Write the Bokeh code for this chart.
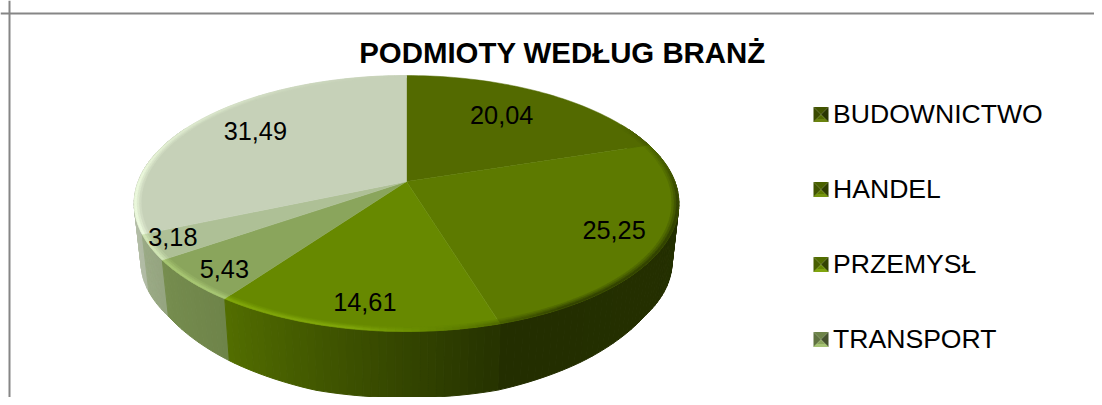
import numpy as np
from bokeh.core.properties import value
from bokeh.embed import file_html
from bokeh.models import Range1d, Span
from bokeh.plotting import figure
from bokeh.resources import INLINE

title = "PODMIOTY WEDŁUG BRANŻ"
legend_labels = ["BUDOWNICTWO", "HANDEL", "PRZEMYSŁ", "TRANSPORT"]
values = [20.04, 25.25, 14.61, 5.43, 3.18, 31.49]
value_labels = ["20,04", "25,25", "14,61", "5,43", "3,18", "31,49"]

colors = [(83, 106, 0), (93, 122, 0), (103, 137, 0), (138, 165, 92), (174, 192, 150), (198, 209, 184)]
label_radius = [0.68, 0.82, 0.84, 0.88, 0.92, 0.72]
label_nudge_x = [-3, -1, 1, 6, 0, 0]
label_nudge_y = [-4, -2, 0, 2, -5, -5]

# Perspective of the pie, in picture pixels
CX, CY, A, B, K = 406.0, 181.0, 268.3, 124.2, 0.1719
SHRINK = 0.975


def project(theta, r=1.0, drop=0.0, s=1.0):
    u, v = r * np.sin(theta), r * np.cos(theta)
    w = 1 + K * v
    return CX + s * A * u / w, CY + drop - s * B * v / w


def wall_drop(theta):
    # thickness of the wall: the lower edge is rounded at its shoulders
    off = np.abs(np.degrees(theta) - 180)
    return np.interp(off, [0, 17, 35, 55, 75, 180], [70, 70, 65, 58, 59, 59])


def hexc(c, f=1.0, add=0.0):
    return "#%02x%02x%02x" % tuple(int(np.clip(x * f + add, 0, 255)) for x in c)


def wall_shade(deg):
    return np.interp(deg, [0, 90, 165, 215, 250, 275, 360], [.45, .40, .38, .80, .90, .95, .95])


p = figure(width=1094, height=397, x_range=Range1d(0, 1094), y_range=Range1d(397, 0),
           x_axis_type=None, y_axis_type=None, toolbar_location=None, output_backend="svg",
           min_border=0, outline_line_color=None, background_fill_color="white")
p.grid.visible = False
p.add_layout(Span(location=13, dimension="width", line_color="#868686", line_width=2))
p.add_layout(Span(location=9, dimension="height", line_color="#868686", line_width=2))

edges = np.concatenate([[0], np.cumsum(values)]) / np.sum(values) * 2 * np.pi
STEP = np.radians(1.5)

# Side wall
quads = []
for i, c in enumerate(colors):
    n = max(2, int(np.ceil((edges[i + 1] - edges[i]) / STEP)))
    th = np.linspace(edges[i], edges[i + 1], n + 1)
    for a, b in zip(th[:-1], th[1:]):
        mid = (a + b) / 2
        if np.cos(mid) > 0.45:
            continue
        x1, y1 = project(np.array([a, b]))
        pair = np.array([b, a])
        x2, y2 = project(pair, drop=wall_drop(pair), s=SHRINK)
        quads.append((-np.cos(mid), list(np.r_[x1, x2]), list(np.r_[y1, y2]),
                      hexc(c, float(wall_shade(np.degrees(mid))))))
quads.sort(key=lambda q: q[0])
p.patches([q[1] for q in quads], [q[2] for q in quads], fill_color=[q[3] for q in quads],
          line_color=[q[3] for q in quads], line_width=1)

# Top faces
for i, c in enumerate(colors):
    n = int(np.ceil((edges[i + 1] - edges[i]) / STEP))
    th = np.linspace(edges[i], edges[i + 1], n + 1)
    x, y = project(th)
    p.patch(np.r_[CX, x], np.r_[CY, y], fill_color=hexc(c), line_color=hexc(c), line_width=0.5)

# Bevel along the rim of the top faces
for r_in, r_out, strength in [(0.975, 0.983, .25), (0.983, 0.991, .55), (0.991, 1.0, .9)]:
    xs, ys, cols = [], [], []
    for i, c in enumerate(colors):
        n = max(2, int(np.ceil((edges[i + 1] - edges[i]) / STEP)))
        th = np.linspace(edges[i], edges[i + 1], n + 1)
        for a, b in zip(th[:-1], th[1:]):
            deg = np.degrees((a + b) / 2)
            t = np.interp(deg, [0, 60, 100, 150, 170, 190, 270, 330, 360],
                          [0, 0, -.5, -.5, -.1, .25, .25, .05, 0]) * strength
            if t == 0:
                continue
            col = hexc(c, 1 + t) if t < 0 else hexc(c, 1 + t * .6, 50 * t)
            x1, y1 = project(np.array([a, b]), r=r_out)
            x2, y2 = project(np.array([b, a]), r=r_in)
            xs.append(list(np.r_[x1, x2]))
            ys.append(list(np.r_[y1, y2]))
            cols.append(col)
    p.patches(xs, ys, fill_color=cols, line_color=cols, line_width=0.5)

# Value labels
mids = (edges[:-1] + edges[1:]) / 2
lx, ly = project(mids, r=np.array(label_radius))
p.text(lx + np.array(label_nudge_x), ly + np.array(label_nudge_y), text=value_labels,
       text_font=value("Liberation Sans"), text_font_size="25.3px",
       text_color="#000000", text_align="center", text_baseline="middle")

# Title
p.text([562], [51.5], text=[title], text_font=value("Liberation Sans"), text_font_size="29.4px",
       text_font_style="bold", text_color="#000000", text_align="center", text_baseline="middle")

# Legend
KX0, KX1, HALF = 813.0, 828.0, 7.5
LY0, LSTEP = 114.0, 75.0
leg_y = [LY0 + LSTEP * i for i in range(len(legend_labels))]
for yc, c in zip(leg_y, colors):
    xm = (KX0 + KX1) / 2
    t, bt = yc - HALF, yc + HALF
    ins = 3.0
    p.patch([KX0, KX1, xm], [t, t, yc], fill_color=hexc(c, .8), line_color=None)
    p.patch([KX0, xm, KX0], [t, yc, bt], fill_color=hexc(c, .7), line_color=None)
    p.patch([KX1, xm, KX1], [t, yc, bt], fill_color=hexc(c, .5), line_color=None)
    p.patch([KX0, KX1, xm], [bt, bt, yc], fill_color=hexc(c, 1.0), line_color=None)
    p.patch([KX0 + ins, KX1 - ins, KX1, KX0], [bt - ins, bt - ins, bt, bt],
            fill_color=hexc(c, 1.1, 15), line_color=None)
p.text([832.5] * len(leg_y), [y - 1 for y in leg_y], text=legend_labels, text_font=value("Liberation Sans"),
       text_font_size="26.6px", text_color="#000000", text_align="left", text_baseline="middle")

open("out.html", "w").write(file_html(p, INLINE))
